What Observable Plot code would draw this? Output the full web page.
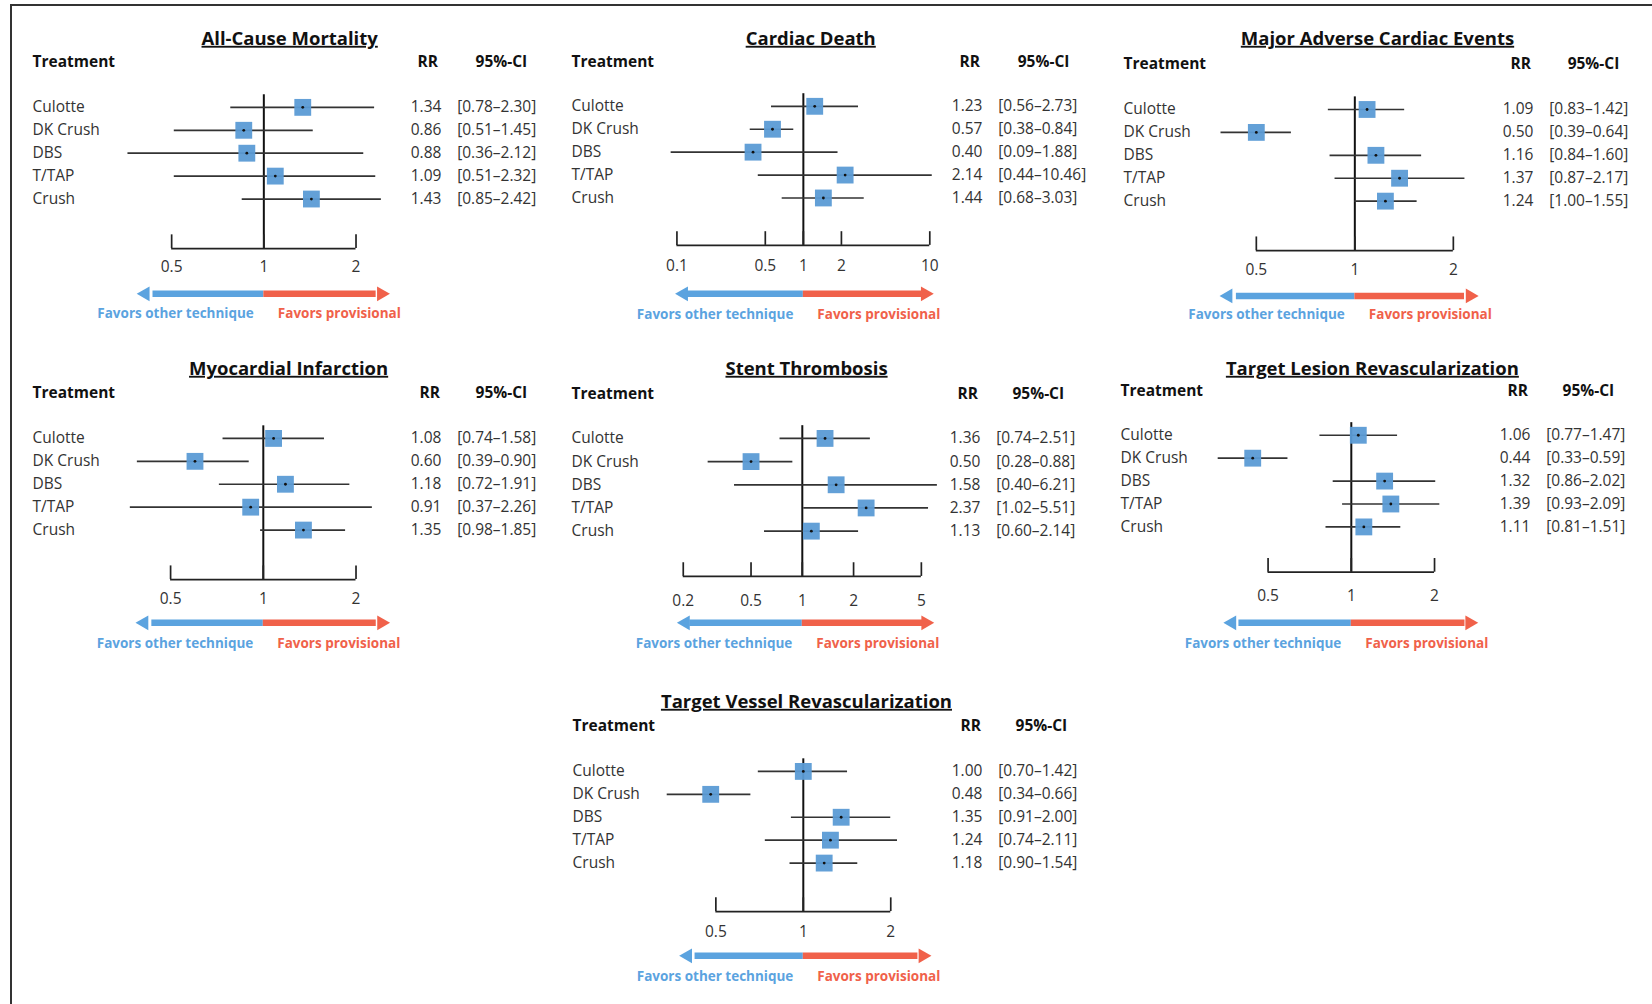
<!DOCTYPE html>
<html>
<head>
<meta charset="utf-8">
<script src="https://cdn.jsdelivr.net/npm/d3@7"></script>
<script src="https://cdn.jsdelivr.net/npm/@observablehq/plot@0.6"></script>
<style>
  body { margin: 0; background: #fff; }
  #page { position: relative; width: 1652px; height: 1004px; overflow: hidden; }
  #border { position: absolute; left: 10px; top: 4px; width: 1640px; height: 1010px;
            border-left: 2px solid #333; border-top: 2px solid #333; }
  #page svg { position: absolute; overflow: visible; }
</style>
</head>
<body>
<div id="page"><div id="border"></div></div>
<script>
// Treatments, same order in every panel
const treatments = ["Culotte", "DK Crush", "DBS", "T/TAP", "Crush"];

// Relative risk and 95% CI per outcome
const acmRR = [1.34, 0.86, 0.88, 1.09, 1.43];
const acmLo = [0.78, 0.51, 0.36, 0.51, 0.85];
const acmHi = [2.30, 1.45, 2.12, 2.32, 2.42];
const cdRR = [1.23, 0.57, 0.40, 2.14, 1.44];
const cdLo = [0.56, 0.38, 0.09, 0.44, 0.68];
const cdHi = [2.73, 0.84, 1.88, 10.46, 3.03];
const maceRR = [1.09, 0.50, 1.16, 1.37, 1.24];
const maceLo = [0.83, 0.39, 0.84, 0.87, 1.00];
const maceHi = [1.42, 0.64, 1.60, 2.17, 1.55];
const miRR = [1.08, 0.60, 1.18, 0.91, 1.35];
const miLo = [0.74, 0.39, 0.72, 0.37, 0.98];
const miHi = [1.58, 0.90, 1.91, 2.26, 1.85];
const stRR = [1.36, 0.50, 1.58, 2.37, 1.13];
const stLo = [0.74, 0.28, 0.40, 1.02, 0.60];
const stHi = [2.51, 0.88, 6.21, 5.51, 2.14];
const tlrRR = [1.06, 0.44, 1.32, 1.39, 1.11];
const tlrLo = [0.77, 0.33, 0.86, 0.93, 0.81];
const tlrHi = [1.47, 0.59, 2.02, 2.09, 1.51];
const tvrRR = [1.00, 0.48, 1.35, 1.24, 1.18];
const tvrLo = [0.70, 0.34, 0.91, 0.74, 0.90];
const tvrHi = [1.42, 0.66, 2.00, 2.11, 1.54];

// Axis ticks per outcome
const ticksA = [0.5, 1, 2];
const ticksCD = [0.1, 0.5, 1, 2, 10];
const ticksST = [0.2, 0.5, 1, 2, 5];

// Layout measured on a 1568px-wide copy of the figure; K scales it to the page
const K = 1652 / 1568;
const panels = [
  { title: "All-Cause Mortality", rr: acmRR, lo: acmLo, hi: acmHi, ticks: ticksA,
    nameX: 30, titleX: 274, titleY: 36, headY: 58, rrHX: 405, ciHX: 475, rrX: 418, ciX: 433,
    row0: 101, row4: 188, axisY: 235, tickLY: 253, arrowY: 278, favY: 297,
    px0: 162, px1: 337, arrLo: 0.41, arrHi: 2.42 },
  { title: "Cardiac Death", rr: cdRR, lo: cdLo, hi: cdHi, ticks: ticksCD,
    nameX: 542, titleX: 769, titleY: 36, headY: 58, rrHX: 920, ciHX: 990, rrX: 932, ciX: 947,
    row0: 100, row4: 187, axisY: 232, tickLY: 252, arrowY: 278, favY: 298,
    px0: 642, px1: 882, arrLo: 0.113, arrHi: 9.2 },
  { title: "Major Adverse Cardiac Events", rr: maceRR, lo: maceLo, hi: maceHi, ticks: ticksA,
    nameX: 1066, titleX: 1307, titleY: 36, headY: 60, rrHX: 1443, ciHX: 1512, rrX: 1455, ciX: 1470,
    row0: 103, row4: 190, axisY: 237, tickLY: 255, arrowY: 280, favY: 298,
    px0: 1192, px1: 1379, arrLo: 0.41, arrHi: 2.25 },
  { title: "Myocardial Infarction", rr: miRR, lo: miLo, hi: miHi, ticks: ticksA,
    nameX: 30, titleX: 273, titleY: 350, headY: 373, rrHX: 407, ciHX: 475, rrX: 418, ciX: 433,
    row0: 416, row4: 503, axisY: 550, tickLY: 568, arrowY: 591, favY: 611,
    px0: 161, px1: 337, arrLo: 0.41, arrHi: 2.42 },
  { title: "Stent Thrombosis", rr: stRR, lo: stLo, hi: stHi, ticks: ticksST,
    nameX: 542, titleX: 765, titleY: 350, headY: 374, rrHX: 918, ciHX: 985, rrX: 930, ciX: 945,
    row0: 416, row4: 504, axisY: 547, tickLY: 570, arrowY: 591, favY: 611,
    px0: 648, px1: 874, arrLo: 0.206, arrHi: 5.3 },
  { title: "Target Lesion Revascularization", rr: tlrRR, lo: tlrLo, hi: tlrHi, ticks: ticksA,
    nameX: 1063, titleX: 1302, titleY: 350, headY: 371, rrHX: 1440, ciHX: 1507, rrX: 1452, ciX: 1467,
    row0: 413, row4: 500, axisY: 543, tickLY: 566, arrowY: 591, favY: 611,
    px0: 1203, px1: 1361, arrLo: 0.37, arrHi: 2.68 },
  { title: "Target Vessel Revascularization", rr: tvrRR, lo: tvrLo, hi: tvrHi, ticks: ticksA,
    nameX: 543, titleX: 765, titleY: 666, headY: 689, rrHX: 921, ciHX: 988, rrX: 932, ciX: 947,
    row0: 732, row4: 819, axisY: 865, tickLY: 884, arrowY: 907, favY: 927,
    px0: 679, px1: 845, arrLo: 0.40, arrHi: 2.58 },
];

const BLUE = "#5b9bd5", ARROW_BLUE = "#5ba3df", ARROW_RED = "#f0614a";
const FONT = "'Open Sans', 'Noto Sans', sans-serif";
const FS = 15.5;
const page = document.getElementById("page");

function renderPanel(p) {
  const L = (p.nameX - 20) * K, T = (p.titleY - 26) * K, W = 560, H = (p.favY + 16) * K - T;
  const px = (v) => v * K - L; // measured x -> svg x
  const step = (p.row4 - p.row0) / 4;
  const yv = (gy) => (gy - p.row0) / step; // measured y -> row units
  const tmin = d3.min(p.ticks), tmax = d3.max(p.ticks);
  const rows = treatments.map((name, i) => ({
    name, i, rr: p.rr[i], lo: p.lo[i], hi: p.hi[i],
    ci: `[${p.lo[i].toFixed(2)}\u2013${p.hi[i].toFixed(2)}]`
  }));
  const at = (gx, anchor) => ({ frameAnchor: "left", dx: px(gx), textAnchor: anchor });

  const fig = Plot.plot({
    width: W, height: H,
    margin: 0,
    style: { fontFamily: FONT, overflow: "visible" },
    x: { type: "log", domain: [tmin, tmax], range: [px(p.px0), px(p.px1)], axis: null },
    y: { type: "linear", domain: [0, 4], range: [p.row0 * K - T, p.row4 * K - T], axis: null },
    marks: [
      // title + headers
      Plot.text([p.title], { ...at(p.titleX, "middle"), y: yv(p.titleY), fontSize: 18.5, fontWeight: "bold", fill: "#111", className: "ptitle" }),
      Plot.text(["Treatment"], { ...at(p.nameX, "start"), y: yv(p.headY), fontSize: FS, fontWeight: "bold", fill: "#111" }),
      Plot.text(["RR"], { ...at(p.rrHX, "middle"), y: yv(p.headY), fontSize: FS, fontWeight: "bold", fill: "#111" }),
      Plot.text(["95%-CI"], { ...at(p.ciHX, "middle"), y: yv(p.headY), fontSize: FS, fontWeight: "bold", fill: "#111" }),
      // row labels and values
      Plot.text(rows, { y: "i", text: "name", ...at(p.nameX, "start"), fontSize: FS, fill: "#333" }),
      Plot.text(rows, { y: "i", text: (d) => d.rr.toFixed(2), ...at(p.rrX, "end"), fontSize: FS, fill: "#333" }),
      Plot.text(rows, { y: "i", text: "ci", ...at(p.ciX, "start"), fontSize: FS, fill: "#333" }),
      // reference line at RR = 1
      Plot.ruleX([1], { y1: -0.55, y2: yv(p.axisY), stroke: "#111", strokeWidth: 2 }),
      // confidence intervals and point estimates
      Plot.ruleY(rows, { y: "i", x1: "lo", x2: "hi", stroke: "#333", strokeWidth: 1.7 }),
      Plot.dot(rows, { y: "i", x: "rr", symbol: "square", r: 9.5, fill: BLUE, fillOpacity: 0.95 }),
      Plot.dot(rows, { y: "i", x: "rr", r: 1.4, fill: "#111" }),
      // bracket axis
      Plot.ruleY([yv(p.axisY)], { x1: tmin, x2: tmax, stroke: "#222", strokeWidth: 1.7 }),
      Plot.ruleX(p.ticks, { y1: yv(p.axisY - 13), y2: yv(p.axisY), stroke: "#222", strokeWidth: 1.7 }),
      Plot.text(p.ticks, { x: (d) => d, y: yv(p.tickLY), text: (d) => String(d), fontSize: FS, fill: "#333" }),
      // direction arrows
      Plot.ruleY([yv(p.arrowY)], { x1: p.arrLo * 1.06, x2: 1, stroke: ARROW_BLUE, strokeWidth: 6.5 }),
      Plot.ruleY([yv(p.arrowY)], { x1: 1, x2: p.arrHi / 1.04, stroke: ARROW_RED, strokeWidth: 6.5 }),
      Plot.dot([p.arrLo], { x: (d) => d, y: yv(p.arrowY), symbol: "triangle", r: 5.5, rotate: -90, fill: ARROW_BLUE }),
      Plot.dot([p.arrHi], { x: (d) => d, y: yv(p.arrowY), symbol: "triangle", r: 5.5, rotate: 90, fill: ARROW_RED }),
      Plot.text(["Favors other technique"], { x: 1, y: yv(p.favY), dx: -10, textAnchor: "end", fontSize: 13.5, fontWeight: "bold", fill: ARROW_BLUE }),
      Plot.text(["Favors provisional"], { x: 1, y: yv(p.favY), dx: 14, textAnchor: "start", fontSize: 13.5, fontWeight: "bold", fill: ARROW_RED }),
    ],
  });
  fig.style.left = L + "px";
  fig.style.top = T + "px";
  fig.querySelectorAll(".ptitle text").forEach((t) => t.setAttribute("text-decoration", "underline"));
  page.appendChild(fig);
}

panels.forEach(renderPanel);
</script>
</body>
</html>
